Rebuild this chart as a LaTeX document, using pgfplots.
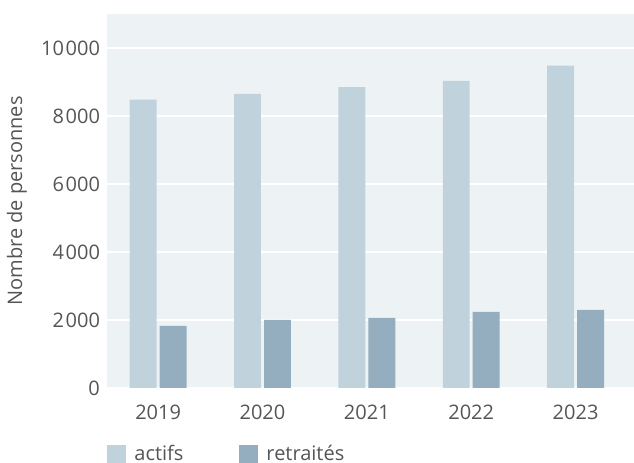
\documentclass[border=0pt]{standalone}
\usepackage{fontspec}
\setmainfont{Open Sans}
\usepackage{pgfplots}
\pgfplotsset{compat=1.18}
\definecolor{bg}{HTML}{EDF2F5}
\definecolor{actifs}{HTML}{C0D3DC}
\definecolor{retr}{HTML}{94AEC0}
\definecolor{txt}{HTML}{555555}

\begin{document}
\fontsize{10pt}{12pt}\selectfont
\begin{tikzpicture}
\begin{axis}[
    name=ax,
    scale only axis,
    width=263.5pt, height=187pt,
    xmin=-0.49, xmax=4.56,
    ymin=0, ymax=11000,
    axis background/.style={fill=bg},
    axis line style={draw=none},
    xtick={0,1,2,3,4},
    xticklabels={2019,2020,2021,2022,2023},
    ytick={0,2000,...,10000},
    scaled y ticks=false,
    major tick length=0pt,
    ymajorgrids,
    grid style={white, line width=1pt},
    /pgf/number format/assume math mode=true,
    /pgf/number format/1000 sep={\kern0.8pt},
    tick label style={text=txt, font=\fontsize{10pt}{12pt}\selectfont},
    xticklabel style={yshift=-5pt},
    ylabel={Nombre de personnes},
    ylabel style={at={(axis description cs:-0.171,0.5)}, anchor=center, text=txt},
    legend columns=-1,
    legend style={at={(axis description cs:0,0)}, anchor=north west, yshift=-24.5pt, xshift=-3pt,
        draw=none, fill=none, text=txt, font=\fontsize{10pt}{12pt}\selectfont,
        /tikz/every odd column/.append style={column sep=2pt},
        /tikz/every even column/.append style={column sep=26pt}},
    legend image code/.code={\fill[#1] (0pt,-4.75pt) rectangle (9.5pt,4.75pt);},
]
\addplot[ybar, fill=actifs, draw=none, bar width=0.258, bar shift=-0.1435]
    coordinates {(0,8480) (1,8650) (2,8850) (3,9030) (4,9480)};
\addplot[ybar, fill=retr, draw=none, bar width=0.258, bar shift=0.1435]
    coordinates {(0,1830) (1,2000) (2,2060) (3,2240) (4,2300)};
\legend{actifs, retraités}
\end{axis}
\pgfresetboundingbox
\path[use as bounding box] ([shift={(-53.5pt,-37.5pt)}]ax.south west) rectangle ([shift={(0pt,7pt)}]ax.north east);
\end{tikzpicture}
\end{document}
